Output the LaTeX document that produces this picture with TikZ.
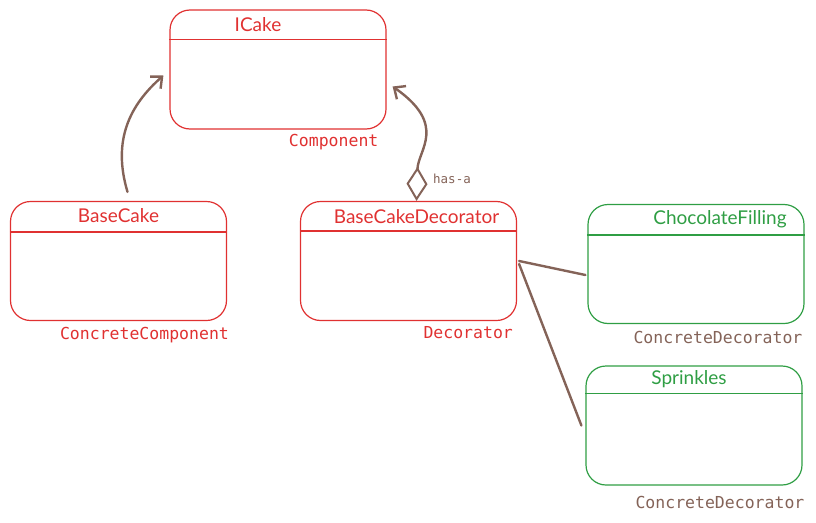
\documentclass[tikz,border=0pt]{standalone}
\usepackage{fontspec}
\setmainfont{Lato}
\newfontfamily\labelfont{DejaVu Sans Mono}
\usetikzlibrary{arrows.meta}
\definecolor{cakered}{HTML}{E03131}
\definecolor{cakegreen}{HTML}{2F9E44}
\definecolor{cakebrown}{HTML}{846358}
\begin{document}
\begin{tikzpicture}[x=1pt, y=-1pt,
		classbox/.style={rectangle, draw, line width=1.2pt, rounded corners=20pt, minimum width=216pt, minimum height=119pt, inner sep=0pt},
		classtitle/.style={font=\fontsize{19}{22}\selectfont, inner sep=0pt},
		rolelabel/.style={font=\labelfont\fontsize{16.5}{18}\selectfont, inner sep=0pt, anchor=east},
		link/.style={draw=cakebrown, line width=2.4pt, line cap=round}]
				\useasboundingbox (0,0) rectangle (816,522);
				\node[classbox, draw=cakered] (icake) at (278,69.5) {};
				\node[classbox, draw=cakered] (basecake) at (118.5,261) {};
				\node[classbox, draw=cakered] (decorator) at (408.5,261) {};
				\node[classbox, draw=cakegreen] (chocolate) at (696,264) {};
				\node[classbox, draw=cakegreen] (sprinkles) at (694,425.5) {};
				
				\node[classtitle, text=cakered] (icaketitle) at ([xshift=-20pt,yshift=-15pt]icake.north) {ICake};
				\node[classtitle, text=cakered] (basecaketitle) at ([yshift=-15pt]basecake.north) {BaseCake};
				\node[classtitle, text=cakered] (decoratortitle) at ([xshift=8pt,yshift=-16pt]decorator.north) {BaseCakeDecorator};
				\node[classtitle, text=cakegreen] (chocolatetitle) at ([xshift=24pt,yshift=-15pt]chocolate.north) {ChocolateFilling};
				\node[classtitle, text=cakegreen] (sprinklestitle) at ([xshift=-5pt,yshift=-14pt]sprinkles.north) {Sprinkles};
				
				\draw[cakered, line width=1.2pt] ([yshift=-30pt]icake.north west) -- ([yshift=-30pt]icake.north east);
				\draw[cakered, line width=1.2pt] ([yshift=-31pt]basecake.north west) -- ([yshift=-31pt]basecake.north east);
				\draw[cakered, line width=1.2pt] ([yshift=-30pt]decorator.north west) -- ([yshift=-30pt]decorator.north east);
				\draw[cakegreen, line width=1.2pt] ([yshift=-31pt]chocolate.north west) -- ([yshift=-31pt]chocolate.north east);
				\draw[cakegreen, line width=1.2pt] ([yshift=-28pt]sprinkles.north west) -- ([yshift=-28pt]sprinkles.north east);
				
				\node[rolelabel, text=cakered] (icakerole) at ([xshift=-8pt,yshift=-12pt]icake.south east) {Component};
				\node[rolelabel, text=cakered] (basecakerole) at ([xshift=2pt,yshift=-14pt]basecake.south east) {ConcreteComponent};
				\node[rolelabel, text=cakered] (decoratorrole) at ([xshift=-4pt,yshift=-11pt]decorator.south east) {Decorator};
				\node[rolelabel, text=cakebrown] (chocolaterole) at ([xshift=-2pt,yshift=-13pt]chocolate.south east) {ConcreteDecorator};
				\node[rolelabel, text=cakebrown] (sprinklesrole) at ([xshift=2pt,yshift=-17pt]sprinkles.south east) {ConcreteDecorator};
				
				\draw[link, -{Straight Barb[length=9pt, width=16pt]}] ([xshift=9pt,yshift=9pt]basecake.north) .. controls (112,140) and (130,105) .. ([xshift=-6pt,yshift=-6pt]icake.west);
				\draw[link, {Diamond[open, length=34pt, width=21pt, line width=2pt]}-{Straight Barb[length=9pt, width=16pt]}] ([xshift=8pt]decorator.north) .. controls (418,150) and (448,125) .. ([xshift=6pt,yshift=-17pt]icake.east);
				\node[font=\labelfont\fontsize{12.5}{14}\selectfont, text=cakebrown, inner sep=0pt] (hasa) at (452,179) {has-a};
				\draw[link] ([xshift=2pt]decorator.east) -- ([xshift=-2pt,yshift=-11pt]chocolate.west);
				\draw[link] ([xshift=2pt,yshift=-3pt]decorator.east) -- ([xshift=-4pt]sprinkles.west);
			\end{tikzpicture}
\end{document}
